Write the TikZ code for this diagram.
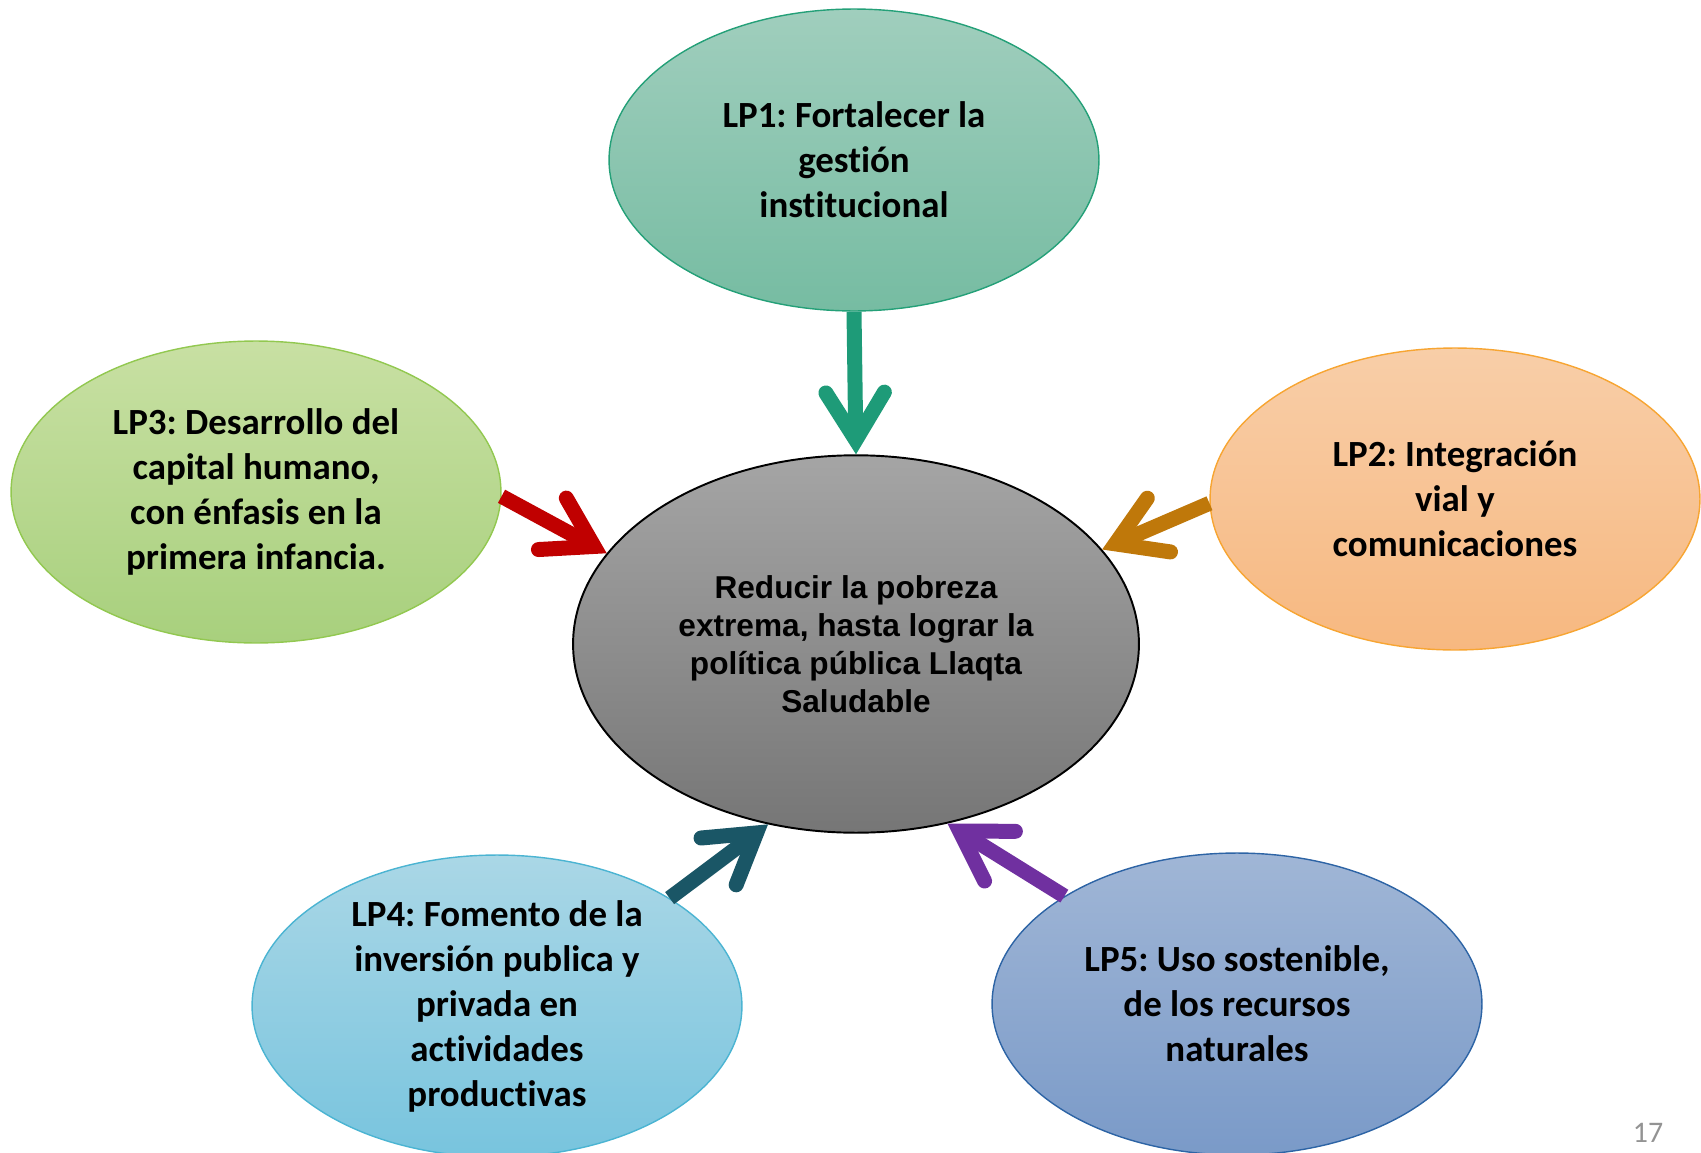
\documentclass[tikz,border=0pt]{standalone}
\usepackage{fontspec}
\setmainfont{Carlito}[Ligatures=NoCommon]
\newfontfamily\goalfont{Liberation Sans}
\usetikzlibrary{arrows.meta,shapes.geometric}
\frenchspacing

\definecolor{lpAtop}{RGB}{160,206,189}
\definecolor{lpAbot}{RGB}{118,188,162}
\definecolor{lpAline}{RGB}{36,160,120}
\definecolor{lpBtop}{RGB}{248,206,168}
\definecolor{lpBbot}{RGB}{247,184,128}
\definecolor{lpBline}{RGB}{247,165,50}
\definecolor{lpCtop}{RGB}{200,224,163}
\definecolor{lpCbot}{RGB}{168,208,125}
\definecolor{lpCline}{RGB}{146,200,80}
\definecolor{lpDtop}{RGB}{170,215,230}
\definecolor{lpDbot}{RGB}{120,196,222}
\definecolor{lpDline}{RGB}{75,180,210}
\definecolor{lpEtop}{RGB}{160,182,214}
\definecolor{lpEbot}{RGB}{122,154,200}
\definecolor{lpEline}{RGB}{45,100,165}
\definecolor{goaltop}{RGB}{165,165,165}
\definecolor{goalbot}{RGB}{118,118,118}
\definecolor{arrA}{RGB}{30,155,120}
\definecolor{arrB}{RGB}{191,120,10}
\definecolor{arrC}{RGB}{192,0,0}
\definecolor{arrD}{RGB}{26,86,102}
\definecolor{arrE}{RGB}{112,48,160}

\begin{document}
\begin{tikzpicture}[x=0.02cm,y=-0.02cm
	,>={Straight Barb[length=0.95cm,width=1.17cm,line cap=round,line join=miter]}
	,line width=0.3cm
	]
  \tikzstyle{lp}=[ellipse,line width=0.8pt,inner sep=0pt
	,minimum width=9.8cm,minimum height=6.04cm,align=center
	,font=\bfseries\fontsize{21}{25.6}\selectfont]
  \tikzstyle{goal}=[ellipse,draw=black,line width=1.1pt,inner sep=0pt
	,top color=goaltop,bottom color=goalbot
	,minimum width=11.32cm,minimum height=7.55cm,align=center
	,font=\goalfont\bfseries\fontsize{18}{21.7}\selectfont]
  \tikzstyle{lparrow}=[->,draw]

  \useasboundingbox (0,0) rectangle (1701,1153);

  % centre
  \node[goal] (goal) at (856,644) {Reducir la pobreza\\extrema, hasta lograr la\\pol\'itica p\'ublica Llaqta\\Saludable};

  % five lines around it
  \node[lp,draw=lpAline,top color=lpAtop,bottom color=lpAbot] (lp1) at (854,160)
	{LP1: Fortalecer la\\gestión\\institucional};
  \node[lp,draw=lpBline,top color=lpBtop,bottom color=lpBbot] (lp2) at (1455,499)
	{LP2: Integración\\vial y\\comunicaciones};
  \node[lp,draw=lpCline,top color=lpCtop,bottom color=lpCbot] (lp3) at (256,492)
	{LP3: Desarrollo del\\capital humano,\\con énfasis en la\\primera infancia.};
  \node[lp,draw=lpDline,top color=lpDtop,bottom color=lpDbot,inner ysep=-4pt] (lp4) at (497,1006)
	{LP4: Fomento de la\\inversión publica y\\privada en\\actividades\\productivas};
  \node[lp,draw=lpEline,top color=lpEtop,bottom color=lpEbot] (lp5) at (1237,1004)
	{LP5: Uso sostenible,\\de los recursos\\naturales};

  \path
	(lp1.south) edge[lparrow,arrA] (goal.north)
	(lp2.181) edge[lparrow,arrB] (goal.21)
	(lp3.359) edge[lparrow,arrC] (goal.160)
	(lp4.32) edge[lparrow,arrD] (goal.244)
	(lp5.148) edge[lparrow,arrE] (goal.297);

  % slide number
  \node[anchor=south,inner sep=0pt,text=gray!85,font=\fontsize{17}{19}\selectfont] (pagenum) at (1648,1150) {17};
\end{tikzpicture}
\end{document}
